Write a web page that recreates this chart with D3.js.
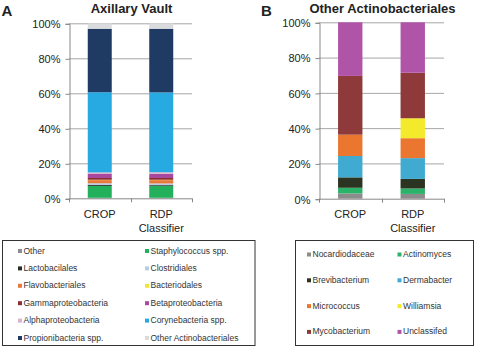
<html>
<head>
<style>
  body { margin: 0; background: #fff; }
  svg text { font-family: Arial, "Liberation Sans", sans-serif; fill: #222; }
  .title { font-weight: bold; font-size: 13px; text-anchor: middle; }
  .letter { font-weight: bold; font-size: 15px; }
  .ytick { font-size: 11px; text-anchor: end; }
  .cat { font-size: 11px; text-anchor: middle; }
  .leg { font-size: 8.5px; fill: #333; }
</style>
</head>
<body>
<svg id="chart" width="477" height="347"></svg>
<script src="https://cdnjs.cloudflare.com/ajax/libs/d3/7.8.5/d3.min.js"></script>
<script>
// categories shared by both panels
var categories = ["CROP", "RDP Classifier"];
var yTicks = [0, 20, 40, 60, 80, 100];

// panel A: Axillary Vault (percent of reads)
var seriesA = ["Other", "Staphylococcus spp.", "Lactobacilales", "Clostridiales",
  "Flavobacteriales", "Bacteriodales", "Gammaproteobacteria", "Betaproteobacteria",
  "Alphaproteobacteria", "Corynebacteria spp.", "Propionibacteria spp.", "Other Actinobacteriales"];
var cropA = [0.3, 6.8, 0.5, 1.0, 1.8, 0.2, 1.0, 2.3, 0.9, 45.8, 36.3, 3.1];
var rdpA  = [0.3, 6.7, 0.5, 1.0, 1.9, 0.2, 1.0, 2.4, 0.9, 45.6, 36.4, 3.1];
var colorsA = ["#8c8c8c", "#22b05a", "#263022", "#b8cce4", "#e8793a", "#f2e33c",
  "#8b2f2f", "#a8489e", "#d9b3cb", "#27aae1", "#1f3a63", "#d9dbdd"];

// panel B: Other Actinobacteriales
var seriesB = ["Nocardiodaceae", "Actinomyces", "Brevibacterium", "Dermabacter",
  "Micrococcus", "Williamsia", "Mycobacterium", "Unclassifed"];
var cropB = [3.0, 3.2, 5.9, 12.1, 12.1, 0, 33.3, 30.4];
var rdpB  = [2.7, 3.1, 5.4, 11.8, 11.3, 11.3, 25.8, 28.6];
var colorsB = ["#8c8c8c", "#2bb36a", "#2a3420", "#41aad0", "#ea7630", "#f3ea2c",
  "#8e3a3a", "#b054a8"];

var svg = d3.select("#chart");

function rows(series, a, b) {
  return categories.map(function(c, i) {
    var r = { cat: c };
    series.forEach(function(s, j) { r[s] = i == 0 ? a[j] : b[j]; });
    return r;
  });
}

function drawPanel(opt) {
  var x = d3.scaleBand().domain(categories).range([opt.x0, opt.x1])
    .paddingInner(0.61).paddingOuter(0.305);
  var y = d3.scaleLinear().domain([0, 100]).range([opt.y0, opt.y1]);
  var g = svg.append("g");

  // gridlines
  g.selectAll(".grid").data(yTicks.slice(1)).enter().append("line")
    .attr("x1", opt.x0).attr("x2", opt.x1)
    .attr("y1", function(d) { return y(d) + 0.5; })
    .attr("y2", function(d) { return y(d) + 0.5; })
    .attr("stroke", "#a6a6a6").attr("stroke-width", 1);

  var stacked = d3.stack().keys(opt.series)(rows(opt.series, opt.crop, opt.rdp));
  var color = d3.scaleOrdinal().domain(opt.series).range(opt.colors);

  g.selectAll(".layer").data(stacked).enter().append("g")
    .attr("fill", function(d) { return color(d.key); })
    .selectAll("rect").data(function(d) { return d; }).enter().append("rect")
    .attr("x", function(d) { return x(d.data.cat); })
    .attr("width", x.bandwidth())
    .attr("y", function(d) { return y(d[1]); })
    .attr("height", function(d) { return y(d[0]) - y(d[1]); });

  // y axis
  var ya = g.append("g").attr("transform", "translate(" + (opt.x0 + 0.5) + ",0.5)")
    .call(d3.axisLeft(y).tickValues(yTicks).tickSize(4).tickFormat(function(d) { return d + "%"; }));
  ya.select(".domain").attr("stroke", "#888");
  ya.selectAll(".tick line").attr("stroke", "#888");
  ya.selectAll("text").attr("class", "ytick").attr("x", -9).attr("dy", "0.35em");

  // x axis line with ticks at category boundaries
  g.append("line").attr("x1", opt.x0).attr("x2", opt.x1)
    .attr("y1", opt.y0 + 0.5).attr("y2", opt.y0 + 0.5).attr("stroke", "#888");
  var edges = [opt.x0, x.step() + opt.x0, opt.x1];
  g.selectAll(".xt").data(edges).enter().append("line")
    .attr("x1", function(d) { return Math.round(d) + 0.5; })
    .attr("x2", function(d) { return Math.round(d) + 0.5; })
    .attr("y1", opt.y0).attr("y2", opt.y0 + 4).attr("stroke", "#888");

  // category labels
  categories.forEach(function(c) {
    var t = g.append("text").attr("class", "cat")
      .attr("x", x(c) + x.bandwidth() / 2).attr("y", 218);
    c.split(" ").forEach(function(w, i) {
      t.append("tspan").attr("x", x(c) + x.bandwidth() / 2)
        .attr("dy", i == 0 ? 0 : 14).text(w);
    });
  });

  g.append("text").attr("class", "title").attr("x", opt.tx).attr("y", 12.5).text(opt.title);
  g.append("text").attr("class", "letter").attr("x", opt.lx).attr("y", 16).text(opt.letter);

  // legend
  var L = opt.legend;
  g.append("rect").attr("x", L.x).attr("y", L.y).attr("width", L.w).attr("height", L.h)
    .attr("fill", "none").attr("stroke", "#333").attr("stroke-width", 1);
  var items = g.selectAll(".li").data(opt.series).enter().append("g")
    .attr("transform", function(d, i) {
      return "translate(" + L.cols[i % 2] + "," + (L.row0 + Math.floor(i / 2) * L.dy) + ")";
    });
  items.append("rect").attr("x", 0).attr("y", -4).attr("width", 4).attr("height", 4)
    .attr("fill", function(d) { return color(d); });
  items.append("text").attr("class", "leg").attr("x", 5.5).attr("y", 0.5)
    .text(function(d) { return d; });
}

drawPanel({
  series: seriesA, crop: cropA, rdp: rdpA, colors: colorsA,
  x0: 69, x1: 192, y0: 198.3, y1: 23.3,
  title: "Axillary Vault", tx: 131.5, letter: "A", lx: 1.5,
  legend: { x: 2.5, y: 240.5, w: 252.5, h: 105, cols: [18, 145], row0: 253, dy: 17.4 }
});

drawPanel({
  series: seriesB, crop: cropB, rdp: rdpB, colors: colorsB,
  x0: 319, x1: 444, y0: 198.7, y1: 22.3,
  title: "Other Actinobacteriales", tx: 382.5, letter: "B", lx: 261,
  legend: { x: 295.5, y: 240.5, w: 178, h: 105, cols: [307, 397.5], row0: 256.5, dy: 25.8 }
});
</script>
</body>
</html>
